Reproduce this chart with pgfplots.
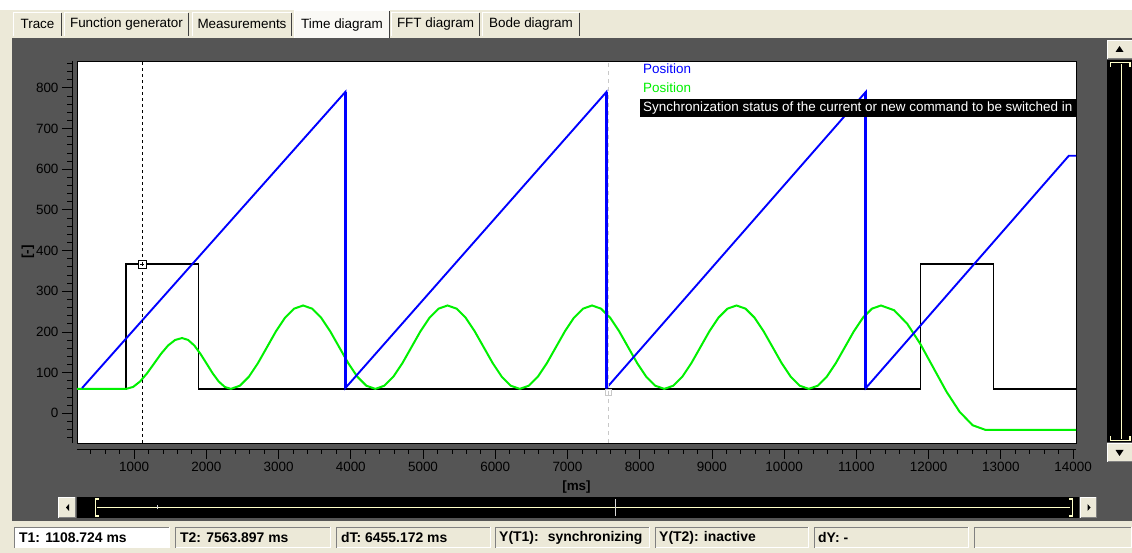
\documentclass[border=0pt]{standalone}
\usepackage{fontspec}
\setmainfont{Liberation Sans}
\usepackage{pgfplots}
\pgfplotsset{compat=1.18}

\definecolor{panel}{HTML}{555555}
\definecolor{xpbeige}{HTML}{ECE9D8}
\definecolor{tabface}{HTML}{FAF9F5}
\definecolor{trackyellow}{HTML}{FFFFC8}
\definecolor{cursorgray}{HTML}{C8C8C8}
\definecolor{posblue}{RGB}{0,0,255}
\definecolor{posgreen}{RGB}{0,240,0}
\definecolor{shadow}{HTML}{808080}

\newcommand\ui{\fontsize{13.5}{15}\selectfont}
\newcommand\uib{\fontsize{14}{16}\selectfont\bfseries}

\begin{document}
\begin{tikzpicture}

\begin{scope}[x=1bp,y=1bp]
% window and panel
\fill[xpbeige] (0,0) rectangle (1132,553);
\fill[white] (0,543) rectangle (1132,553);
\fill[panel] (12,32) rectangle (1132,515);

% tab strip
\foreach \a/\b/\t in {13/62/Trace, 64/189/Function generator, 192/292/Measurements, 391/480/FFT diagram, 482/580/Bode diagram}{
  \fill[xpbeige] (\a,517) rectangle (\b,541);
  \draw[white, line width=1bp] (\a+0.5,517) -- (\a+0.5,540.5) -- (\b-1,540.5);
  \draw[black!75, line width=1bp] (\b-0.5,517) -- (\b-0.5,540);
  \node[font=\ui, inner sep=0] at ({(\a+\b)/2},529) {\t};
}
\fill[tabface] (294,515) rectangle (390,543);
\draw[white, line width=1bp] (294.5,515) -- (294.5,542.5) -- (389,542.5);
\draw[black!75, line width=1bp] (389.5,515) -- (389.5,542);
\node[font=\ui, inner sep=0] at (342,528) {Time diagram};

% plot area
\fill[white] (77,110) rectangle (1076,492);
\draw[black, line width=0.8bp] (77,110) rectangle (1076,492);
\end{scope}

\begin{axis}[
  at={(77bp,110bp)}, anchor=south west,
  scale only axis, width=999bp, height=382bp,
  xmin=210, xmax=14040, ymin=-73, ymax=866,
  axis x line*=bottom, axis y line*=left,
  axis x line shift=6bp, axis y line shift=5bp,
  axis line style={black, line width=0.8bp, -},
  tick align=outside,
  major tick length=10bp, minor tick length=5bp,
  every tick/.style={black, line width=0.8bp},
  xtick={1000,2000,...,14000},
  minor xtick={400,600,...,14000},
  ytick={0,100,...,800},
  minor ytick={-60,-40,...,860},
  scaled x ticks=false, scaled y ticks=false,
  tick label style={font=\ui, text=black},
  /pgf/number format/assume math mode=true,
  /pgf/number format/set thousands separator={},
  xlabel={\textbf{[ms]}}, ylabel={\textbf{[-]}},
  label style={font=\ui},
  xlabel style={at={(axis description cs:0.5,0)}, anchor=center, yshift=-44bp},
  ylabel style={at={(axis description cs:0,0.5)}, anchor=center, yshift=49bp},
]
% reference signal (rectangular)
\addplot[black, line width=1.3bp] coordinates {
  (210,60) (889,60) (889,367) (1896,367) (1896,60) (11886,60)
  (11886,367) (12893,367) (12893,60) (14040,60)};

% following axis position
\addplot[posgreen, line width=2bp] coordinates {
  (210,60) (890,60) (987,64.8) (1084,78.3) (1181,98.6) (1278,122.5) (1374,146.4)
  (1471,166.7) (1568,180.2) (1665,185) (1749,180.2) (1834,166.7) (1918,146.4)
  (2003,122.5) (2087,98.6) (2171,78.3) (2256,64.8) (2340,60)
  (2465,67.8) (2590,90.0) (2715,123.3) (2840,162.5) (2965,201.7) (3090,235.0) (3215,257.2) (3340,265)
  (3465,257.2) (3590,235.0) (3715,201.7) (3840,162.5) (3965,123.3) (4090,90.0) (4215,67.8) (4340,60)
  (4465,67.8) (4590,90.0) (4715,123.3) (4840,162.5) (4965,201.7) (5090,235.0) (5215,257.2) (5340,265)
  (5465,257.2) (5590,235.0) (5715,201.7) (5840,162.5) (5965,123.3) (6090,90.0) (6215,67.8) (6340,60)
  (6465,67.8) (6590,90.0) (6715,123.3) (6840,162.5) (6965,201.7) (7090,235.0) (7215,257.2) (7340,265)
  (7465,257.2) (7590,235.0) (7715,201.7) (7840,162.5) (7965,123.3) (8090,90.0) (8215,67.8) (8340,60)
  (8465,67.8) (8590,90.0) (8715,123.3) (8840,162.5) (8965,201.7) (9090,235.0) (9215,257.2) (9340,265)
  (9465,257.2) (9590,235.0) (9715,201.7) (9840,162.5) (9965,123.3) (10090,90.0) (10215,67.8) (10340,60)
  (10465,67.8) (10590,90.0) (10715,123.3) (10840,162.5) (10965,201.7) (11090,235.0) (11215,257.2) (11340,265)
  (11521,253.4) (11703,220.2) (11884,170.6) (12065,112) (12246,53.4) (12428,3.8)
  (12609,-29.4) (12790,-41) (14040,-41)};

% leading axis position (sawtooth)
\addplot[posblue, line width=1.9bp] coordinates {
  (280,62) (3925,790) (3925,62) (7540,790) (7540,62) (11130,790) (11130,62)
  (13940,633) (14040,633)};
\addplot[posblue, line width=3bp] coordinates {(3925,790) (3925,62)};
\addplot[posblue, line width=3bp] coordinates {(7540,790) (7540,62)};
\addplot[posblue, line width=3bp] coordinates {(11130,790) (11130,62)};

% cursors T1 and T2
\addplot[black, line width=0.8bp, dash pattern=on 3bp off 3bp] coordinates {(1108.724,-73) (1108.724,866)};
\addplot[cursorgray, line width=0.8bp, dash pattern=on 4bp off 4bp] coordinates {(7563.897,-73) (7563.897,866)};
\addplot[only marks, mark=square*, mark size=4bp, mark options={fill=white, draw=black, line width=0.8bp}] coordinates {(1108.724,367)};
\addplot[only marks, mark=+, mark size=2bp, mark options={draw=black, line width=0.6bp}] coordinates {(1108.724,367)};
\addplot[only marks, mark=square, mark size=3bp, mark options={draw=cursorgray, line width=0.8bp}] coordinates {(7563.897,52)};
\end{axis}

\begin{scope}[x=1bp,y=1bp]
% signal names
\node[anchor=west, font=\ui, text=posblue, inner sep=0] at (643,484) {Position};
\node[anchor=west, font=\ui, text=posgreen, inner sep=0] at (643,465) {Position};
\begin{scope}
  \clip (640,436) rectangle (1076,454);
  \fill[black] (640,436) rectangle (1076,454);
  \node[anchor=west, font=\ui, text=white, inner sep=0] at (643,445) {Synchronization status of the current or new command to be switched in};
\end{scope}

% horizontal scroll bar
\fill[xpbeige] (58,35) rectangle (76,56);
\draw[white] (58.5,35) -- (58.5,55.5) -- (76,55.5);
\draw[shadow] (58.5,35.5) -- (75.5,35.5) -- (75.5,55.5);
\fill[black] (66,45.5) -- (69,42) -- (69,49) -- cycle;
\fill[black] (77,35) rectangle (1079,56);
\fill[xpbeige] (1080,35) rectangle (1097,56);
\draw[white] (1080.5,35) -- (1080.5,55.5) -- (1097,55.5);
\draw[shadow] (1080.5,35.5) -- (1096.5,35.5) -- (1096.5,55.5);
\fill[black] (1090.5,45.5) -- (1087.5,42) -- (1087.5,49) -- cycle;
\draw[trackyellow, line width=1bp] (97,45.5) -- (1070,45.5);
\draw[trackyellow, line width=1.3bp] (99,54) -- (95.5,54) -- (95.5,37) -- (99,37);
\draw[trackyellow, line width=1.3bp] (1069,54) -- (1072.5,54) -- (1072.5,37) -- (1069,37);
\draw[white!85!black, line width=0.8bp] (615,37) -- (615,54);
\draw[white!85!black, line width=0.8bp] (157,43.5) -- (157,47.5);

% vertical scroll bar
\fill[xpbeige] (1107,494) rectangle (1132,513);
\draw[white] (1107.5,494) -- (1107.5,512.5) -- (1132,512.5);
\draw[shadow] (1107.5,494.5) -- (1132,494.5);
\fill[black] (1119.5,507) -- (1115.5,501) -- (1123.5,501) -- cycle;
\fill[black] (1107,111) rectangle (1132,493);
\fill[xpbeige] (1107,91) rectangle (1132,110);
\draw[white] (1107.5,91) -- (1107.5,109.5) -- (1132,109.5);
\draw[shadow] (1107.5,91.5) -- (1132,91.5);
\fill[black] (1119.5,97) -- (1115.5,103) -- (1123.5,103) -- cycle;
\draw[trackyellow, line width=1bp] (1121,114) -- (1121,489);
\draw[trackyellow, line width=1.3bp] (1110.5,486) -- (1110.5,490.5) -- (1130,490.5) -- (1130,486);
\draw[trackyellow, line width=1.3bp] (1110.5,117) -- (1110.5,112.5) -- (1130,112.5) -- (1130,117);

% status bar
\foreach \a/\b/\f in {14/170/white, 175/331/xpbeige, 336/491/xpbeige, 495/650/xpbeige, 655/809/xpbeige, 814/969/xpbeige, 974/1132/xpbeige}{
  \fill[\f] (\a,5) rectangle (\b,26);
  \draw[shadow, line width=1bp] (\a+0.5,5) -- (\a+0.5,25.5) -- (\b,25.5);
  \draw[white, line width=1bp] (\b-0.5,25.5) -- (\b-0.5,5.5) -- (\a+0.5,5.5);
}
\node[anchor=west, font=\uib, inner sep=0] at (19,15.5) {T1: 1108.724 ms};
\node[anchor=west, font=\uib, inner sep=0] at (180,15.5) {T2: 7563.897 ms};
\node[anchor=west, font=\uib, inner sep=0] at (341,15.5) {dT: 6455.172 ms};
\node[anchor=west, font=\uib, inner sep=0] at (499,15.5) {Y(T1):~ synchronizing};
\node[anchor=west, font=\uib, inner sep=0] at (659,15.5) {Y(T2): inactive};
\node[anchor=west, font=\uib, inner sep=0] at (818,15.5) {dY: -};

\pgfresetboundingbox
\useasboundingbox (0,0) rectangle (1132,553);
\end{scope}
\end{tikzpicture}
\end{document}
